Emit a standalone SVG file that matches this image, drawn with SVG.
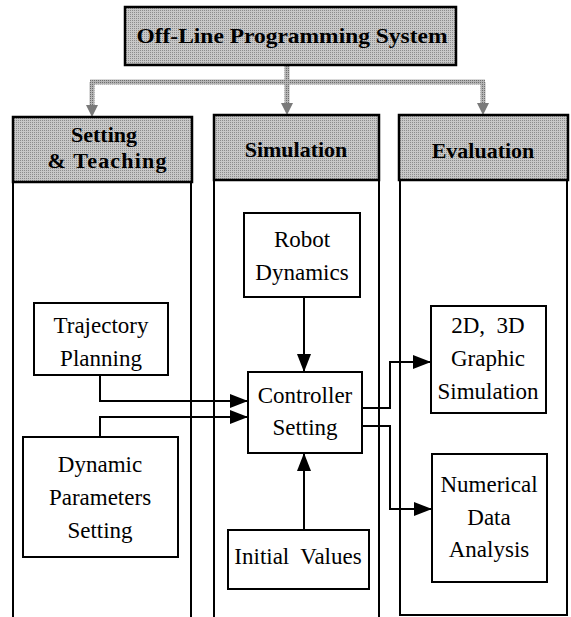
<svg xmlns="http://www.w3.org/2000/svg" width="571" height="617" viewBox="0 0 571 617">
<style>
.box{fill:#fff;stroke:#000;stroke-width:2}
.col{fill:#fff;stroke:#000;stroke-width:2}
.hdr{fill:url(#dither);stroke:#000;stroke-width:2.5}
.t{font-size:23px;fill:#000;text-anchor:middle}
.h{font-size:22px;font-weight:bold;fill:#000;text-anchor:middle}
.ln{fill:none;stroke:#000;stroke-width:2}
.gl{fill:none;stroke:url(#dither2);stroke-width:5}
</style>
<defs>
<pattern id="dither" width="2" height="2" patternUnits="userSpaceOnUse">
<rect width="2" height="2" fill="#c8c8c8"/>
<rect width="1" height="1" fill="#8c8c8c"/>
</pattern>
<pattern id="dither2" width="2" height="2" patternUnits="userSpaceOnUse">
<rect width="2" height="2" fill="#b4b4b4"/>
<rect width="1" height="1" fill="#6e6e6e"/>
</pattern>
<marker id="ah" viewBox="0 0 18 14" refX="18" refY="7" markerWidth="18" markerHeight="14" markerUnits="userSpaceOnUse" orient="auto">
<path d="M0,0 L18,7 L0,14 Z" fill="#000"/>
</marker>
<marker id="gh" viewBox="0 0 12 12" refX="12" refY="6" markerWidth="12" markerHeight="12" markerUnits="userSpaceOnUse" orient="auto">
<path d="M0,0 L12,6 L0,12 Z" fill="#7a7a7a"/>
</marker>
</defs>

<g id="columns">
<rect class="col" x="13" y="182" width="178" height="440"/>
<rect class="col" x="214" y="180" width="165" height="442"/>
<rect class="col" x="400" y="180" width="167" height="435"/>
</g>

<g id="connectors">
<path class="gl" d="M287,65 V82 M90,82 H485"/>
<path class="gl" d="M92,82 V108"/>
<path class="gl" d="M287,82 V106"/>
<path class="gl" d="M483,82 V106"/>
<path d="M86,105 L98,105 L92,117 Z M281,103 L293,103 L287,115 Z M477,103 L489,103 L483,115 Z" fill="#7a7a7a"/>
<path class="ln" d="M304,297 V372" marker-end="url(#ah)"/>
<path class="ln" d="M100,375 V401 H248" marker-end="url(#ah)"/>
<path class="ln" d="M100,437 V417 H248" marker-end="url(#ah)"/>
<path class="ln" d="M304,530 V453" marker-end="url(#ah)"/>
<path class="ln" d="M362,408 H390 V362 H431" marker-end="url(#ah)"/>
<path class="ln" d="M362,426 H390 V509 H432" marker-end="url(#ah)"/>
</g>

<g font-family="Liberation Serif, Times New Roman, DejaVu Serif, serif">
<g id="title">
<rect class="hdr" x="125" y="7" width="331" height="58"/>
<text class="h" x="292" y="43" font-size="23" textLength="311" lengthAdjust="spacingAndGlyphs">Off-Line Programming System</text>
</g>

<g id="hdr-setting">
<rect class="hdr" x="13" y="117" width="179" height="65"/>
<text class="h" x="104" y="142">Setting</text>
<text class="h" x="107" y="168" textLength="119">&amp; Teaching</text>
</g>

<g id="hdr-simulation">
<rect class="hdr" x="214" y="115" width="165" height="65"/>
<text class="h" x="296" y="157">Simulation</text>
</g>

<g id="hdr-evaluation">
<rect class="hdr" x="399" y="115" width="169" height="65"/>
<text class="h" x="483" y="158">Evaluation</text>
</g>

<g id="robot-dynamics">
<rect class="box" x="244" y="213" width="116" height="84"/>
<text class="t" x="302" y="247">Robot</text>
<text class="t" x="302" y="280">Dynamics</text>
</g>

<g id="trajectory-planning">
<rect class="box" x="34" y="303" width="134" height="72"/>
<text class="t" x="101" y="333">Trajectory</text>
<text class="t" x="101" y="366">Planning</text>
</g>

<g id="controller-setting">
<rect class="box" x="248" y="372" width="114" height="81"/>
<text class="t" x="305" y="403">Controller</text>
<text class="t" x="305" y="435">Setting</text>
</g>

<g id="dynamic-parameters">
<rect class="box" x="23" y="437" width="155" height="120"/>
<text class="t" x="100" y="472">Dynamic</text>
<text class="t" x="100" y="505">Parameters</text>
<text class="t" x="100" y="538">Setting</text>
</g>

<g id="initial-values">
<rect class="box" x="228" y="530" width="141" height="59"/>
<text class="t" x="298" y="564" xml:space="preserve">Initial  Values</text>
</g>

<g id="graphic-simulation">
<rect class="box" x="431" y="306" width="115" height="107"/>
<text class="t" x="488" y="333" xml:space="preserve">2D,  3D</text>
<text class="t" x="488" y="366">Graphic</text>
<text class="t" x="488" y="399">Simulation</text>
</g>

<g id="numerical-data">
<rect class="box" x="432" y="454" width="115" height="128"/>
<text class="t" x="489" y="492">Numerical</text>
<text class="t" x="489" y="525">Data</text>
<text class="t" x="489" y="557">Analysis</text>
</g>
</g>
</svg>
